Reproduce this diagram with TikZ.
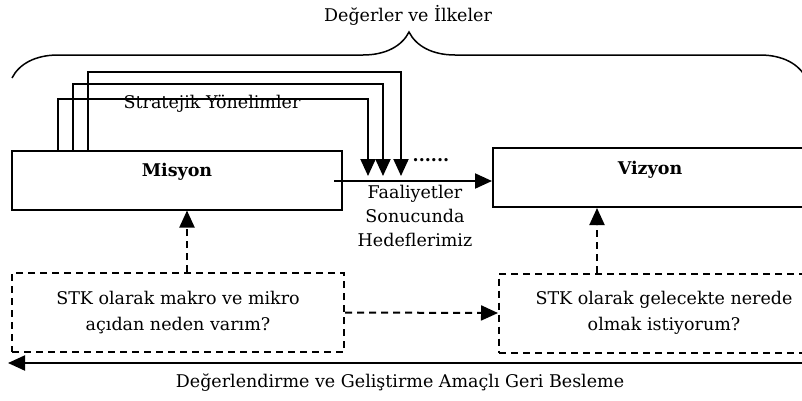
\documentclass[tikz,border=0pt]{standalone}
\usepackage{fontspec}
\setmainfont{DejaVu Serif}
\usepackage{tikz}
\usetikzlibrary{arrows.meta}
\usetikzlibrary{decorations.pathreplacing}
\usetikzlibrary{calc}
\tikzset{
  solidbox/.style={draw, line width=2pt, minimum height=59pt, inner sep=0pt},
  dashbox/.style={draw, line width=2pt, dash pattern=on 7pt off 5pt, align=center,
                  minimum height=79pt, inner sep=0pt, font=\fontsize{17.5}{26}\selectfont},
  txt/.style={font=\fontsize{17.5}{24}\selectfont, align=center, inner sep=0pt},
  boldtxt/.style={font=\fontsize{17.5}{24}\selectfont\bfseries, inner sep=0pt},
  dashline/.style={dash pattern=on 7pt off 5pt},
}

\begin{document}
\begin{tikzpicture} [x=1pt, y=-1pt, line width=2pt, >={Triangle[width=15pt,length=17pt]}]
\useasboundingbox (0,0) rectangle (802,400);
% brace and title
\draw[line width=1.5pt, decorate, decoration={brace, amplitude=46pt}] (12,78) -- (806,78);
\node[txt] (degerler) at (408,15) {Değerler ve İlkeler};
% main boxes
\node[solidbox, minimum width=330pt] (misyon) at (177,180) {};
\node[boldtxt] (misyonlbl) at (177,172) {Misyon};
\node[solidbox, minimum width=342pt] (vizyon) at (664,177.5) {};
\node[boldtxt] (vizyonlbl) at (650,170) {Vizyon};
% stratejik yonelimler
\foreach \dx/\yt/\xe in {47/99/368, 62/84/383, 77/72/401} {
 \draw[->] ([xshift=\dx pt]misyon.north west) |- (\xe,\yt) -- (\xe,176);
}
\node[txt] (yonelim) at (212,104) {Stratejik Yönelimler};
\node[txt, font=\fontsize{17.5}{24}\selectfont\bfseries] (noktalar) at (431,160) {......};
\coordinate (faal) at (334,181);
\draw[->] (faal) -- (faal -| vizyon.west);
\node[txt] (hedefler) at (415,216) {Faaliyetler\\Sonucunda\\Hedeflerimiz};
% sorular
\node[dashbox, minimum width=332pt] (soru1) at (178,312.5) {STK olarak makro ve mikro\\açıdan neden varım?};
\node[dashbox, minimum width=330pt] (soru2) at (664,313) {STK olarak gelecekte nerede\\olmak istiyorum?};
\draw[->, dashline] ([xshift=9pt]soru1.north) -- ([xshift=10pt]misyon.south);
\draw[->, dashline] ([xshift=-67pt]soru2.north) -- ([xshift=-67pt]vizyon.south);
\draw[->, dashline] (soru1.east) -- (soru2.west);
% geri besleme
\coordinate (geriR) at (806,363);
\coordinate (geriL) at (8,363);
\draw[->] (geriR) -- (geriL);
\node[txt] (geri) at (400,383) {Değerlendirme ve Geliştirme Amaçlı Geri Besleme};
\end{tikzpicture}
\end{document}
